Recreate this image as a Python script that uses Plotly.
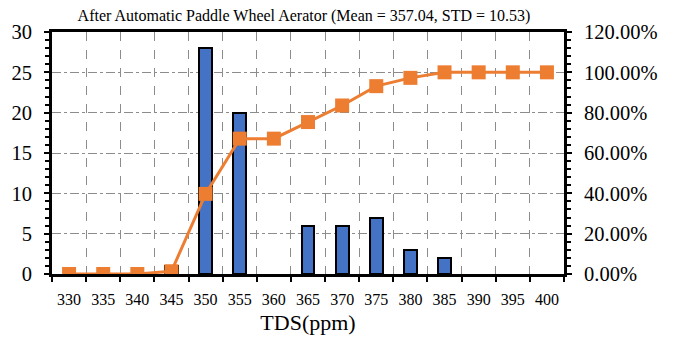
import plotly.graph_objects as go

categories = [330, 335, 340, 345, 350, 355, 360, 365, 370, 375, 380, 385, 390, 395, 400]
counts = [0, 0, 0, 1, 28, 20, 0, 6, 6, 7, 3, 2, 0, 0, 0]
cumulative_pct = [0, 0, 0, 1.37, 39.73, 67.12, 67.12, 75.34, 83.56, 93.15, 97.26, 100, 100, 100, 100]
title_text = "After Automatic Paddle Wheel Aerator (Mean = 357.04, STD = 10.53)"
x_title = "TDS(ppm)"

FONT = "Liberation Serif, Times New Roman, serif"

fig = go.Figure()
fig.add_trace(go.Bar(
    x=categories, y=[c if c > 0 else None for c in counts], width=1.9,
    marker=dict(color="#4472C4", line=dict(color="black", width=2)),
    yaxis="y", showlegend=False,
))
fig.add_trace(go.Scatter(
    x=categories, y=cumulative_pct, mode="lines+markers",
    line=dict(color="#ED7D31", width=3),
    marker=dict(symbol="square", size=14, color="#ED7D31"),
    yaxis="y2", showlegend=False,
))

fig.update_layout(
    width=673, height=337,
    margin=dict(l=52, r=109, t=32, b=63),
    paper_bgcolor="white", plot_bgcolor="white",
    font=dict(family=FONT, color="black"),
    title=dict(text=title_text, x=304/673, xanchor="center", y=0.955, yanchor="middle",
               font=dict(size=16, family=FONT, color="black")),
    xaxis=dict(
        range=[327.5, 402.5], tickvals=categories, ticktext=[str(c) for c in categories],
        ticks="", showgrid=False, zeroline=False, automargin=False,
        showline=True, linecolor="black", linewidth=3, mirror=True,
        tickfont=dict(size=16, family=FONT), ticklabelstandoff=9,
        minor=dict(tick0=327.5, dtick=5, ticks="outside", ticklen=5, tickwidth=2, tickcolor="black",
                   showgrid=True, gridcolor="#8c8c8c", griddash="dash", gridwidth=1),
        title=dict(text=x_title, font=dict(size=22, family=FONT), standoff=8),
    ),
    yaxis=dict(
        range=[0, 30], dtick=5, tick0=0, ticks="outside", ticklen=5, tickwidth=2, tickcolor="black",
        showline=True, linecolor="black", linewidth=3, zeroline=False, automargin=False,
        showgrid=True, gridcolor="#8c8c8c", griddash="dashdot", gridwidth=1,
        tickfont=dict(size=20.5, family=FONT), ticklabelstandoff=8,
        minor=dict(dtick=1, ticks="outside", ticklen=4, tickwidth=2, tickcolor="black", showgrid=False),
    ),
    yaxis2=dict(
        range=[0, 120], dtick=20, tick0=0, overlaying="y", side="right",
        ticks="outside", ticklen=5, tickwidth=2, tickcolor="black", automargin=False,
        showline=True, linecolor="black", linewidth=3, zeroline=False, showgrid=False,
        ticksuffix="%", tickformat=".2f",
        tickfont=dict(size=20.5, family=FONT), ticklabelstandoff=8,
        minor=dict(dtick=4, ticks="outside", ticklen=4, tickwidth=2, tickcolor="black", showgrid=False),
    ),
    bargap=0,
)

fig.write_html("out.html")
